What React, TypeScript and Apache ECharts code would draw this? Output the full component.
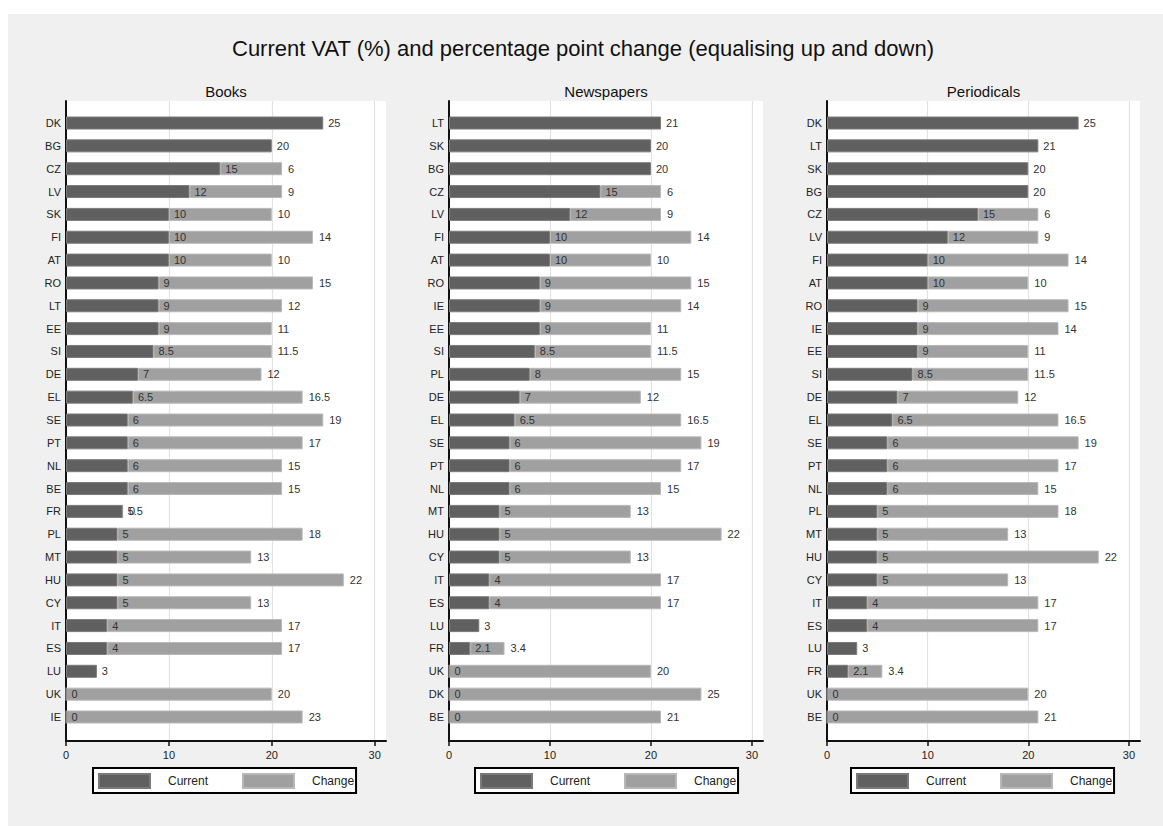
import React, { useEffect, useRef } from "react";
import * as echarts from "echarts";

// ---------- Data ----------
const booksCountries = ["DK", "BG", "CZ", "LV", "SK", "FI", "AT", "RO", "LT", "EE", "SI", "DE", "EL", "SE", "PT", "NL", "BE", "FR", "PL", "MT", "HU", "CY", "IT", "ES", "LU", "UK", "IE"];
const booksCurrent = [25, 20, 15, 12, 10, 10, 10, 9, 9, 9, 8.5, 7, 6.5, 6, 6, 6, 6, 5.5, 5, 5, 5, 5, 4, 4, 3, 0, 0];
const booksChange = [null, null, 6, 9, 10, 14, 10, 15, 12, 11, 11.5, 12, 16.5, 19, 17, 15, 15, 0, 18, 13, 22, 13, 17, 17, null, 20, 23];

const newsCountries = ["LT", "SK", "BG", "CZ", "LV", "FI", "AT", "RO", "IE", "EE", "SI", "PL", "DE", "EL", "SE", "PT", "NL", "MT", "HU", "CY", "IT", "ES", "LU", "FR", "UK", "DK", "BE"];
const newsCurrent = [21, 20, 20, 15, 12, 10, 10, 9, 9, 9, 8.5, 8, 7, 6.5, 6, 6, 6, 5, 5, 5, 4, 4, 3, 2.1, 0, 0, 0];
const newsChange = [null, null, null, 6, 9, 14, 10, 15, 14, 11, 11.5, 15, 12, 16.5, 19, 17, 15, 13, 22, 13, 17, 17, null, 3.4, 20, 25, 21];

const periCountries = ["DK", "LT", "SK", "BG", "CZ", "LV", "FI", "AT", "RO", "IE", "EE", "SI", "DE", "EL", "SE", "PT", "NL", "PL", "MT", "HU", "CY", "IT", "ES", "LU", "FR", "UK", "BE"];
const periCurrent = [25, 21, 20, 20, 15, 12, 10, 10, 9, 9, 9, 8.5, 7, 6.5, 6, 6, 6, 5, 5, 5, 5, 4, 4, 3, 2.1, 0, 0];
const periChange = [null, null, null, null, 6, 9, 14, 10, 15, 14, 11, 11.5, 12, 16.5, 19, 17, 15, 18, 13, 22, 13, 17, 17, null, 3.4, 20, 21];

const panelTitles = ["Books", "Newspapers", "Periodicals"];
const seriesNames = ["Current", "Change"];
const xTicks = [0, 10, 20, 30];
const mainTitle = "Current VAT (%) and percentage point change (equalising up and down)";

// ---------- Styles ----------
const FONT = "'Liberation Sans', Arial, Helvetica, sans-serif";
const CUR_COLOR = "#606060";
const CHG_COLOR = "#a0a0a0";
const X_MAX = 31.1;

export default function App() {
  const ref = useRef<HTMLDivElement>(null);

  useEffect(() => {
    if (!ref.current) return;
    const chart = echarts.init(ref.current, null, { renderer: "svg" });

    const panels = [
      { countries: booksCountries, current: booksCurrent, change: booksChange, left: 58, width: 320, legendLeft: 85 },
      { countries: newsCountries, current: newsCurrent, change: newsChange, left: 441, width: 314, legendLeft: 467 },
      { countries: periCountries, current: periCurrent, change: periChange, left: 819, width: 313, legendLeft: 843 },
    ];

    const bgTop = 87;
    const bgHeight = 640;
    const barTop = 97.6;
    const barHeight = 616.8;

    const grid: any[] = [];
    const xAxis: any[] = [];
    const yAxis: any[] = [];
    const series: any[] = [];
    const legend: any[] = [];
    const graphic: any[] = [];

    graphic.push({
      type: "text",
      x: 575,
      y: 34,
      style: {
        text: mainTitle,
        fontSize: 22,
        fontFamily: FONT,
        fill: "#111",
        textAlign: "center",
        textVerticalAlign: "middle",
      },
    });

    panels.forEach((p, i) => {
      const bgIdx = i * 2;
      const barIdx = i * 2 + 1;

      graphic.push({
        type: "text",
        x: p.left + p.width / 2,
        y: 77,
        style: {
          text: panelTitles[i],
          fontSize: 15,
          fontFamily: FONT,
          fill: "#111",
          textAlign: "center",
          textVerticalAlign: "middle",
        },
      });

      // background grid (white plot region, axes, gridlines)
      grid.push({
        left: p.left,
        width: p.width,
        top: bgTop,
        height: bgHeight,
        show: true,
        backgroundColor: "#ffffff",
        borderWidth: 0,
      });
      // bar grid
      grid.push({
        left: p.left,
        width: p.width,
        top: barTop,
        height: barHeight,
        show: false,
      });

      xAxis.push({
        type: "value",
        gridIndex: bgIdx,
        min: 0,
        max: X_MAX,
        interval: 10,
        axisLine: { show: true, lineStyle: { color: "#111", width: 2 } },
        axisTick: { show: true, length: 5, lineStyle: { color: "#111", width: 1.5 }, customValues: xTicks },
        axisLabel: {
          show: true,
          fontSize: 11,
          color: "#222",
          fontFamily: FONT,
          margin: 8,
          customValues: xTicks,
        },
        splitLine: { show: true, lineStyle: { color: "#e3e3e3", width: 1.2 } },
      });
      xAxis.push({
        type: "value",
        gridIndex: barIdx,
        min: 0,
        max: X_MAX,
        show: false,
      });

      yAxis.push({
        type: "value",
        gridIndex: bgIdx,
        min: 0,
        max: 1,
        axisLine: { show: true, lineStyle: { color: "#111", width: 2 } },
        axisTick: { show: false },
        axisLabel: { show: false },
        splitLine: { show: false },
      });
      yAxis.push({
        type: "category",
        gridIndex: barIdx,
        inverse: true,
        data: p.countries,
        axisLine: { show: false },
        axisTick: { show: false },
        axisLabel: { fontSize: 11, color: "#222", fontFamily: FONT, margin: 5 },
        splitLine: { show: false },
      });

      series.push({
        name: seriesNames[0],
        type: "bar",
        xAxisIndex: barIdx,
        yAxisIndex: barIdx,
        stack: "total" + i,
        barWidth: 13,
        z: 3,
        data: p.current,
        itemStyle: { color: CUR_COLOR, borderColor: "#7a7a7a", borderWidth: 1 },
        label: {
          show: true,
          position: "right",
          distance: 5,
          fontSize: 11,
          color: "#333",
          fontFamily: FONT,
          formatter: (d: any) => String(d.value),
        },
      });
      series.push({
        name: seriesNames[1],
        type: "bar",
        xAxisIndex: barIdx,
        yAxisIndex: barIdx,
        stack: "total" + i,
        barWidth: 13,
        z: 2,
        data: p.change,
        itemStyle: { color: CHG_COLOR, borderColor: "#b8b8b8", borderWidth: 1 },
        label: {
          show: true,
          position: "right",
          distance: 6,
          fontSize: 11,
          color: "#333",
          fontFamily: FONT,
          formatter: (d: any) => (d.value === null || d.value === undefined ? "" : String(d.value)),
        },
      });

      legend.push({
        data: seriesNames,
        left: p.legendLeft,
        top: 754,
        orient: "horizontal",
        backgroundColor: "#ffffff",
        borderColor: "#000",
        borderWidth: 2,
        borderRadius: 0,
        padding: [5, 2, 4, 5],
        itemWidth: 51,
        itemHeight: 14,
        itemGap: 34,
        icon: "rect",
        selectedMode: false,
        textStyle: { fontSize: 12, color: "#222", fontFamily: FONT, padding: [0, 0, 0, 13] },
      });
    });

    chart.setOption({
      animation: false,
      backgroundColor: "#f0f0f0",
      grid,
      xAxis,
      yAxis,
      series,
      legend,
      graphic,
    });

    return () => chart.dispose();
  }, []);

  return (
    <div
      ref={ref}
      style={{ position: "absolute", left: 8, top: 14, width: 1155, height: 812, background: "#f0f0f0" }}
    />
  );
}
